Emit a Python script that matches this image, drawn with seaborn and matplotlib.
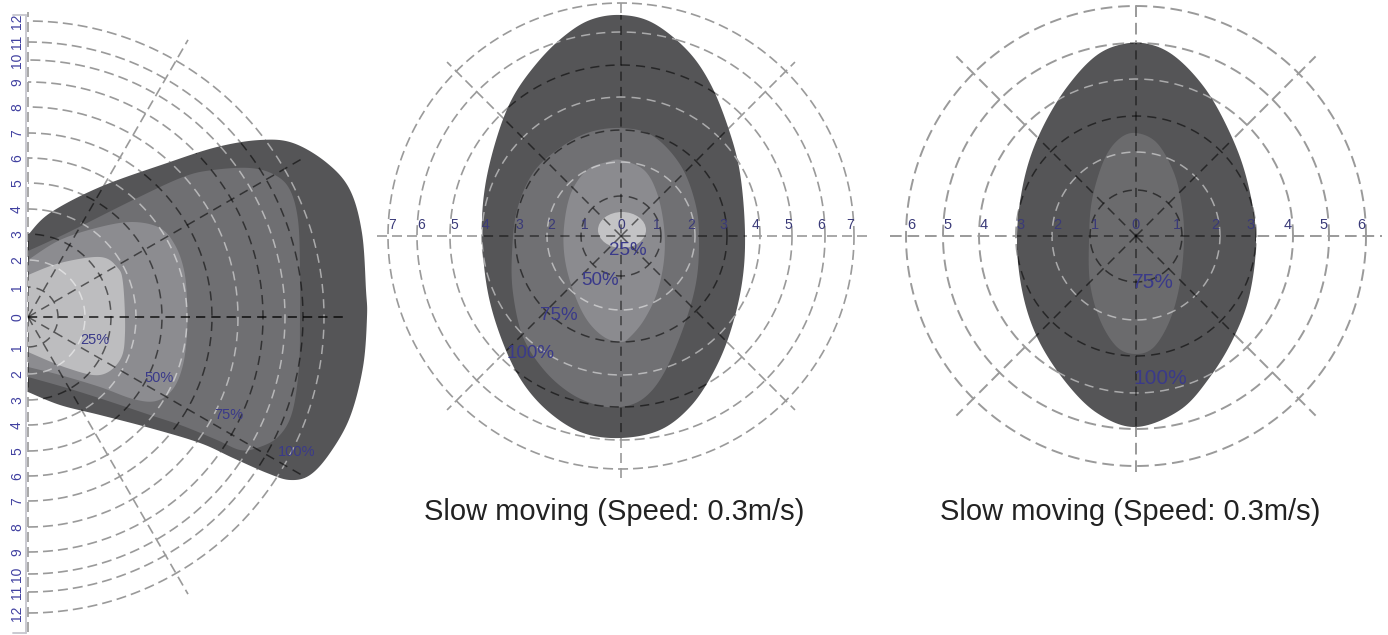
import numpy as np
import pandas as pd
import seaborn as sns
import matplotlib.pyplot as plt
from matplotlib.patches import Polygon, Ellipse

# ---- data (distances in drawing units, 1 unit = 1 px of the sketch) ----
left_rings = [30, 57, 83, 108, 134, 159, 184, 210, 235, 257, 275, 296]
left_ring_labels = [str(i) for i in range(1, 13)]
left_spokes_deg = [-60, -30, 0, 30, 60]

mid_rings = [40, 74, 106, 139, 171, 204, 233]
mid_ring_labels = [str(i) for i in range(1, 8)]
mid_spokes_deg = [45, 135, 225, 315]

right_rings = [46, 84, 120, 157, 193, 230]
right_ring_labels = [str(i) for i in range(1, 7)]
right_spokes_deg = [45, 135, 225, 315]

# detection zones, left view (side view, sensor at left edge)
left_100_x = [0, 22, 72, 139, 189, 232, 265, 299, 322, 334, 338, 339, 335, 322, 302, 282, 262, 239, 205, 172, 122, 72, 32, 0]
left_100_y = [82, 104, 130, 154, 170, 177, 174, 154, 127, 84, 27, 0, -50, -100, -136, -158, -163, -156, -141, -126, -111, -98, -88, -75]
left_75_x = [0, 39, 105, 155, 185, 222, 247, 262, 270, 272, 272, 271, 264, 250, 229, 212, 189, 155, 122, 77, 39, 0]
left_75_y = [66, 84, 117, 140, 147, 149, 142, 127, 97, 50, 0, -50, -96, -120, -131, -133, -123, -109, -98, -83, -71, -60]
left_50_x = [0, 32, 72, 105, 132, 147, 156, 159, 159, 155, 145, 128, 105, 72, 32, 0]
left_50_y = [57, 77, 90, 95, 89, 72, 47, 17, -16, -48, -72, -84, -82, -70, -58, -50]
left_25_x = [0, 32, 72, 89, 95, 97, 92, 72, 39, 0]
left_25_y = [42, 54, 60, 50, 34, -16, -43, -58, -51, -35]

# middle view
mid_100_x = [0, 32, 66, 89, 107, 119, 124, 121, 109, 92, 69, 39, 0, -38, -71, -98, -118, -133, -139, -136, -124, -108, -84, -58, -31]
mid_100_y = [221, 213, 186, 153, 109, 63, 3, -47, -97, -137, -171, -194, -202, -197, -177, -147, -107, -57, 0, 49, 99, 139, 173, 199, 216]
mid_75_x = [0, 32, 60, 75, 78, 75, 63, 43, 23, 0, -24, -51, -77, -98, -108, -109, -104, -88, -64, -34]
mid_75_y = [108, 100, 70, 30, -7, -47, -90, -137, -162, -171, -169, -157, -134, -101, -57, -17, 26, 63, 86, 103]
mid_50_x = [0, 23, 36, 43, 43, 36, 23, 9, 0, -17, -34, -47, -56, -57, -50, -34, -14]
mid_50_y = [76, 66, 43, 9, -24, -57, -84, -101, -106, -101, -84, -57, -24, 9, 43, 66, 74]
mid_25_center = (1, 6)
mid_25_size = (48, 36)

# right view
right_100_x = [0, 34, 68, 94, 111, 120, 114, 98, 74, 44, 0, -39, -72, -99, -114, -119, -112, -96, -69, -36]
right_100_y = [193, 183, 149, 103, 56, 0, -57, -101, -141, -174, -191, -177, -144, -101, -54, 0, 56, 103, 149, 183]
right_75_x = [0, 21, 38, 46, 48, 44, 34, 18, 0, -19, -36, -46, -47, -44, -32, -17]
right_75_y = [103, 93, 63, 29, -4, -47, -84, -111, -118, -111, -84, -47, -4, 36, 76, 97]

caption = "Slow moving (Speed: 0.3m/s)"

# ---- style ----
W, H = 1388, 635
sns.set_theme(style="white")
plt.rcParams['font.family'] = ['Liberation Sans', 'DejaVu Sans']

C100, C75, C50, C25 = '#555557', '#6f6f72', '#8c8c90', '#bdbdbf'
GRID = '#9a9a9a'
NAVY = '#3a3a8a'
DASH = (0, (6, 3))


def smooth(x, y, closed, n=14):
    # Catmull-Rom through the read-off outline points
    pts = np.column_stack([x, y]).astype(float)
    if closed:
        P = np.vstack([pts[-1], pts, pts[0], pts[1]])
    else:
        P = np.vstack([pts[0], pts, pts[-1]])
    t = np.linspace(0, 1, n, endpoint=False)[:, None]
    out = []
    for i in range(1, len(P) - 2):
        p0, p1, p2, p3 = P[i - 1], P[i], P[i + 1], P[i + 2]
        out.append(0.5 * (2 * p1 + (-p0 + p2) * t + (2 * p0 - 5 * p1 + 4 * p2 - p3) * t ** 2
                          + (-p0 + 3 * p1 - 3 * p2 + p3) * t ** 3))
    if not closed:
        out.append(P[-2][None])
    return np.vstack(out)


def panel(x0, x1, cx, cy):
    ax = fig.add_axes([x0 / W, 0, (x1 - x0) / W, 1])
    ax.set_xlim(x0 - cx, x1 - cx)
    ax.set_ylim(cy - H, cy)
    ax.axis('off')
    return ax


def ring_frame(radii, a0, a1):
    rows = []
    for k, r in enumerate(radii):
        th = np.radians(np.linspace(a0, a1, 240))
        rows.append(pd.DataFrame({'x': r * np.cos(th), 'y': r * np.sin(th), 'ring': k}))
    return pd.concat(rows, ignore_index=True)


def draw_grid(ax, radii, a0, a1, spokes, spoke_len, hline, vline, lw=1.2):
    df = ring_frame(radii, a0, a1)
    sns.lineplot(data=df, x='x', y='y', units='ring', estimator=None, sort=False,
                 color=GRID, lw=lw, linestyle=DASH, ax=ax, legend=False, zorder=1)
    for a in spokes:
        th = np.radians(a)
        ax.plot([0, spoke_len * np.cos(th)], [0, spoke_len * np.sin(th)],
                color=GRID, lw=lw, linestyle=DASH, zorder=1)
    ax.plot(hline, [0, 0], color=GRID, lw=lw, linestyle=DASH, zorder=1)
    ax.plot([0, 0], vline, color=GRID, lw=lw, linestyle=DASH, zorder=1)


def overlay(ax, clip, radii, a0, a1, spokes, spoke_len, hline, vline):
    for k, r in enumerate(radii):
        th = np.radians(np.linspace(a0, a1, 240))
        if k % 2 == 0:
            col, al = 'black', 0.55
        else:
            col, al = 'white', 0.5
        ln, = ax.plot(r * np.cos(th), r * np.sin(th), color=col, alpha=al, lw=1.1,
                      linestyle=(0, (6, 4)), zorder=4)
        ln.set_clip_path(clip)
    segs = [([0, spoke_len * np.cos(np.radians(a))], [0, spoke_len * np.sin(np.radians(a))]) for a in spokes]
    segs += [(hline, [0, 0]), ([0, 0], vline)]
    for xs, ys in segs:
        ln, = ax.plot(xs, ys, color='black', alpha=0.55, lw=1.1, linestyle=(0, (6, 4)), zorder=4)
        ln.set_clip_path(clip)


def zone(ax, x, y, color, closed=True, z=2):
    p = Polygon(smooth(x, y, closed), closed=True, facecolor=color, edgecolor='none', zorder=z)
    ax.add_patch(p)
    return p


fig = plt.figure(figsize=(W / 100, H / 100), dpi=100)

# ---- left panel ----
ax = panel(0, 375, 28, 317)
draw_grid(ax, left_rings, -90, 90, left_spokes_deg, 320, [0, 320], [-315, 305])
ax.plot([-2, -2], [302, -316], color='#c6c6ce', lw=1.3, zorder=1)
ax.plot([-15, -2], [302, 302], color='#c6c6ce', lw=1.3, zorder=1)
ax.plot([-15, -2], [-316, -316], color='#c6c6ce', lw=1.3, zorder=1)
outer = zone(ax, left_100_x, left_100_y, C100, closed=False)
zone(ax, left_75_x, left_75_y, C75, closed=False, z=2.1)
zone(ax, left_50_x, left_50_y, C50, closed=False, z=2.2)
zone(ax, left_25_x, left_25_y, C25, closed=False, z=2.3)
overlay(ax, outer, left_rings, -90, 90, left_spokes_deg, 320, [0, 320], [-315, 305])
ax.text(-11, 0, '0', rotation=90, ha='center', va='center', fontsize=10, color='#4040a0')
for r, lab in zip(left_rings, left_ring_labels):
    for s in (1, -1):
        ax.text(-11, s * r, lab, rotation=90, ha='center', va='center', fontsize=10, color='#4040a0')
for (px, py), lab in zip([(67, -23), (131, -61), (201, -98), (269, -135)], ['25%', '50%', '75%', '100%']):
    ax.text(px, py, lab, ha='center', va='center', fontsize=10.5, color=NAVY, zorder=6)

# ---- middle panel ----
ax = panel(375, 870, 621, 236)
draw_grid(ax, mid_rings, 0, 360, mid_spokes_deg, 246, [-244, 246], [-242, 236])
outer = zone(ax, mid_100_x, mid_100_y, C100)
zone(ax, mid_75_x, mid_75_y, '#707073', z=2.1)
zone(ax, mid_50_x, mid_50_y, '#8b8b8f', z=2.2)
ax.add_patch(Ellipse(mid_25_center, mid_25_size[0], mid_25_size[1], facecolor='#c3c3c5',
                     edgecolor='none', zorder=2.3))
overlay(ax, outer, mid_rings, 0, 360, mid_spokes_deg, 246, [-244, 246], [-242, 236])
ax.text(0, 4, '0', ha='center', va='bottom', fontsize=10, color='#3a3a78', zorder=6)
for r, lab in zip(mid_rings, mid_ring_labels):
    for s in (1, -1):
        ax.text(s * (r - 4), 4, lab, ha='center', va='bottom', fontsize=10, color='#3a3a78', zorder=6)
for (px, py), lab in zip([(7, -14), (-21, -44), (-62, -79), (-90, -117)], ['25%', '50%', '75%', '100%']):
    ax.text(px, py, lab, ha='center', va='center', fontsize=13.5, color=NAVY, zorder=6)
ax.text(-7, -276, caption, ha='center', va='center', fontsize=21, color='#222222')

# ---- right panel ----
ax = panel(870, 1388, 1136, 236)
draw_grid(ax, right_rings, 0, 360, right_spokes_deg, 254, [-246, 246], [-236, 236], lw=1.4)
outer = zone(ax, right_100_x, right_100_y, C100)
zone(ax, right_75_x, right_75_y, '#6b6b6d', z=2.1)
overlay(ax, outer, right_rings, 0, 360, right_spokes_deg, 254, [-246, 246], [-236, 236])
ax.text(0, 4, '0', ha='center', va='bottom', fontsize=10.5, color='#3a3a78', zorder=6)
for r, lab in zip(right_rings, right_ring_labels):
    for s in (1, -1):
        ax.text(s * (r - 5), 4, lab, ha='center', va='bottom', fontsize=10.5, color='#3a3a78', zorder=6)
for (px, py), lab in zip([(17, -46), (24, -142)], ['75%', '100%']):
    ax.text(px, py, lab, ha='center', va='center', fontsize=15, color=NAVY, zorder=6)
ax.text(-6, -276, caption, ha='center', va='center', fontsize=21, color='#222222')

fig.savefig('out.png', dpi=100, facecolor='white')
